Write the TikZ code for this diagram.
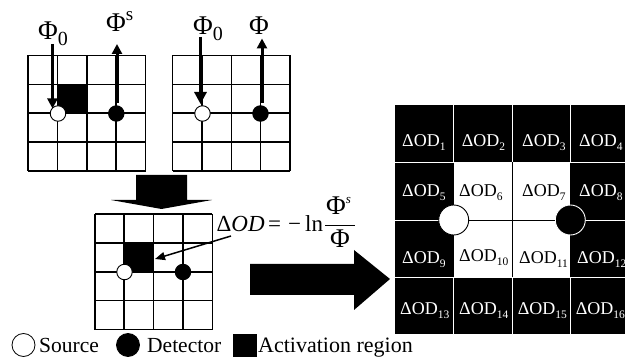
\documentclass[tikz,border=0pt]{standalone}
\usepackage{fontspec}
\setmainfont{Liberation Serif}
\usetikzlibrary{arrows.meta}
\newcommand{\fs}[1]{\fontsize{#1}{#1}\selectfont}
\newcommand{\lowsub}[2]{\raisebox{-0.2em}{\fs{#1}#2}}
\newcommand{\dod}[1]{\fs{18}ΔOD\lowsub{11.5}{#1}}
\tikzset{
  gridline/.style={line width=1.3pt,black},
  src/.style={circle,draw=black,fill=white,line width=0.9pt,minimum size=15.5pt,inner sep=0pt},
  det/.style={circle,draw=black,fill=black,line width=0.9pt,minimum size=15.5pt,inner sep=0pt},
  flux/.style={line width=3pt,-{Triangle[length=10pt,width=10pt]}},
  fluxlong/.style={line width=3pt,-{Triangle[length=12pt,width=12pt]}},
  lbl/.style={inner sep=0pt,anchor=base west},
  block/.style={fill=black,draw=none},
  biglabel/.style={inner sep=0pt,anchor=base west,font=\fs{18},text=white},
  darklabel/.style={inner sep=0pt,anchor=base west,font=\fs{18},text=black},
}
\begin{document}
\begin{tikzpicture}[x=1pt,y=-1pt]
\useasboundingbox (0,0) rectangle (625,358);
\fill[white] (0,0) rectangle (625,358);
% grid 1
\fill[black] (57.5,84.5) rectangle (87,113);
\foreach \x in {28,57.5,87,116,145.5} \draw[gridline] (\x,55.5) -- (\x,171);
\foreach \y in {55.5,84.5,113,142,171} \draw[gridline] (28,\y) -- (145.5,\y);
\node[src] (s1) at (58,113.5) {};
\node[det] (d1) at (116.3,113.5) {};
\coordinate (p1) at (52.5,44);
\coordinate (q1) at (52.5,108.5);
\coordinate (p2) at (117,103);
\coordinate (q2) at (117,44);
\draw[flux] (p1) -- (q1);
\draw[flux] (p2) -- (q2);
\node[lbl] (t1) at (38,40) {\fs{27}Φ\lowsub{20}{0}};
\node[lbl] (t2) at (106,32) {\fs{27}Φ\raisebox{0.42em}{\fs{19}s}};
% grid 2
\foreach \x in {172.5,202,231.5,260.5,290} \draw[gridline] (\x,55.5) -- (\x,171);
\foreach \y in {55.5,84.5,113,142,171} \draw[gridline] (172.5,\y) -- (290,\y);
\node[src] (s2) at (202.5,113.5) {};
\node[det] (d2) at (260.5,113.5) {};
\coordinate (p3) at (200.5,37);
\coordinate (q3) at (200.5,104);
\coordinate (p4) at (262,103);
\coordinate (q4) at (262,38.5);
\draw[fluxlong] (p3) -- (q3);
\draw[flux] (p4) -- (q4);
\node[lbl] (t3) at (193,35) {\fs{27}Φ\lowsub{20}{0}};
\node[lbl] (t4) at (249,35) {\fs{27}Φ};
% big down arrow
\fill[block] (136,175) -- (187,175) -- (187,200) -- (212,200) -- (161.5,209) -- (111,200) -- (136,200) -- cycle;
% grid 3
\fill[black] (124,243) rectangle (153.7,272);
\foreach \x in {95,124,153.7,183,212.3} \draw[gridline] (\x,214) -- (\x,329.7);
\foreach \y in {214,243,272,300.3,329.7} \draw[gridline] (95,\y) -- (212.3,\y);
\node[src] (s3) at (124.5,272) {};
\node[det] (d3) at (183,272) {};
% equation
\node[lbl] (eq1) at (216.5,232) {\fs{23}Δ\textit{OD}};
\node[lbl] (eq2) at (268,232) {\fs{23}=};
\node[lbl] (eq3) at (288,232) {\fs{23}−};
\node[lbl] (eq4) at (305,232) {\fs{23}ln};
\node[lbl] (num) at (326,215) {\fs{27}Φ\raisebox{0.42em}{\fs{13}\textit{s}}};
\node[lbl] (den) at (330,248) {\fs{27}Φ};
\coordinate (b1) at (325,225.7);
\coordinate (b2) at (355,225.7);
\draw[line width=1pt] (b1) -- (b2);
\coordinate (e1) at (231,236);
\coordinate (e2) at (155,259);
\draw[line width=1.5pt,-{Triangle[length=10pt,width=8pt]}] (e1) -- (e2);
% big right arrow
\fill[block] (250,264) -- (354,264) -- (354,250) -- (390,279) -- (354,310) -- (354,295) -- (250,295) -- cycle;
% large grid
\fill[black] (395,105) rectangle (625,334.5);
\fill[white] (453.7,162.3) rectangle (570.3,277.3);
\foreach \x in {453.7,512.3,570.3} {
  \draw[white,line width=0.9pt] (\x,105) -- (\x,162.3);
  \draw[white,line width=0.9pt] (\x,277.3) -- (\x,334.5);
}
\foreach \y in {162.3,277.3} \draw[white,line width=0.9pt] (395,\y) -- (625,\y);
\draw[white,line width=0.9pt] (395,220) -- (453.7,220);
\draw[white,line width=0.9pt] (570.3,220) -- (625,220);
\draw[black,line width=0.9pt] (512.3,162.3) -- (512.3,277.3);
\node[circle,draw=black,fill=white,line width=0.9pt,minimum size=30pt,inner sep=0pt] (bs) at (453.7,220) {};
\node[circle,draw=white,fill=black,line width=0.9pt,minimum size=30pt,inner sep=0pt] (bd) at (570.3,220) {};
\draw[black,line width=0.9pt] (bs) -- (bd);
\foreach \n/\x/\y/\c in {
  1/402/146.7/biglabel,2/461.7/146.7/biglabel,3/522/146.7/biglabel,4/579/146.7/biglabel,
  5/402/197/biglabel,6/459/197/darklabel,7/522/197/darklabel,8/579/197/biglabel,
  9/402/264/biglabel,10/459/261.7/darklabel,11/519/264/darklabel,12/577/264/biglabel,
  13/400/315/biglabel,14/459/315/biglabel,15/517.7/315/biglabel,16/575.7/315/biglabel}
  \node[\c] (od\n) at (\x,\y) {\dod{\n}};
% legend
\node[circle,draw=black,fill=white,line width=0.8pt,minimum size=23pt,inner sep=0pt] (ls) at (23.5,345) {};
\node[lbl] (lst) at (39,353) {\fs{21.5}Source};
\node[circle,draw=black,fill=black,line width=0.8pt,minimum size=23pt,inner sep=0pt] (ld) at (128,345) {};
\node[lbl] (ldt) at (147,353) {\fs{21.5}Detector};
\node[fill=black,minimum size=23.5pt,inner sep=0pt] (la) at (245,345.5) {};
\node[lbl] (lat) at (258,353) {\fs{22}Activation region};
\end{tikzpicture}
\end{document}
